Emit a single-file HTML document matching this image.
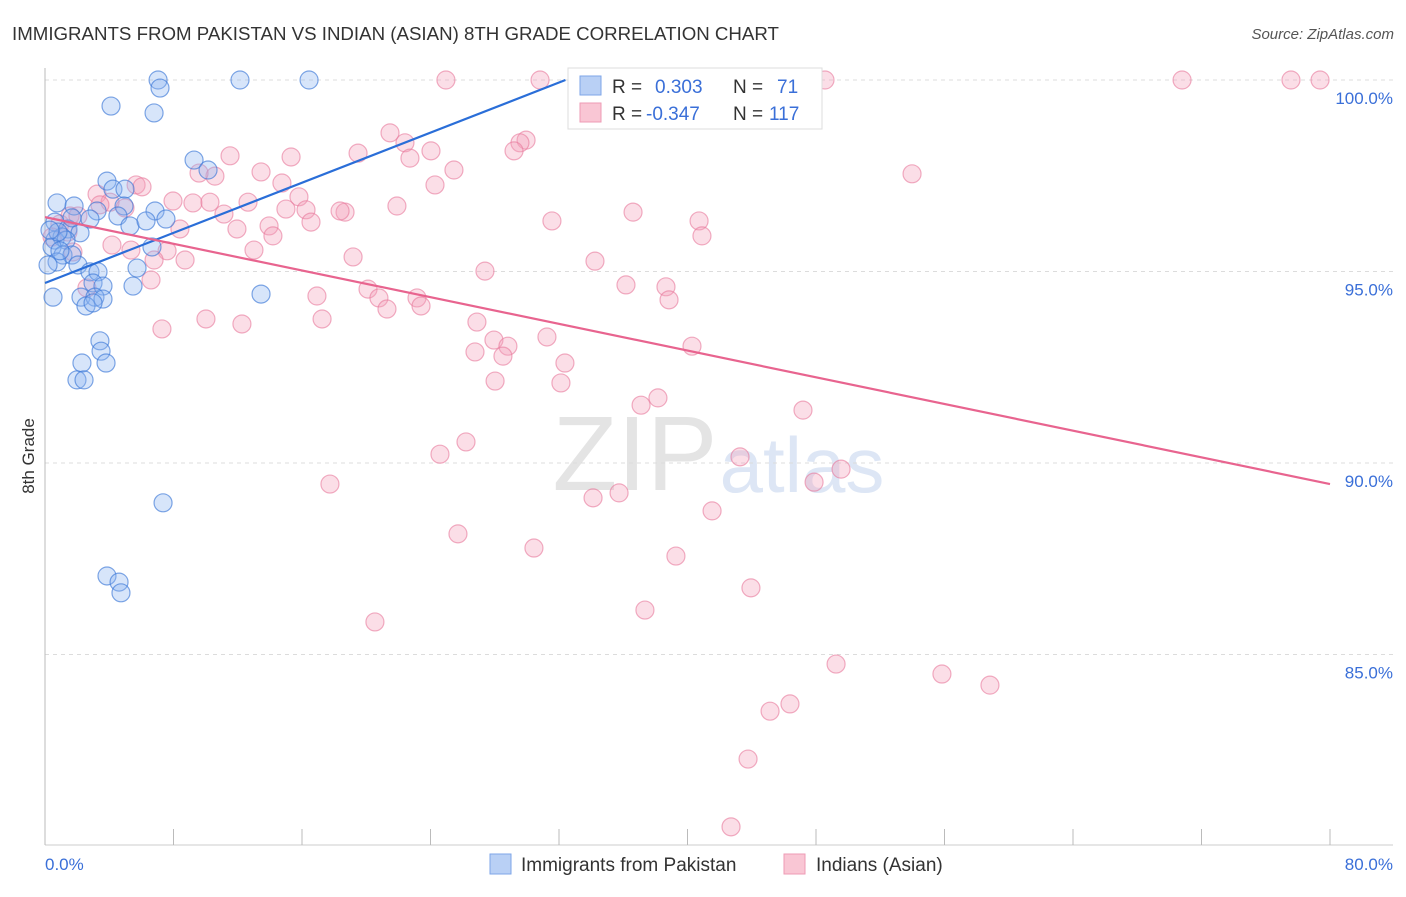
<!DOCTYPE html>
<html><head><meta charset="utf-8"><style>
body{margin:0;background:#fff;font-family:"Liberation Sans",sans-serif;}
svg text{font-family:"Liberation Sans",sans-serif;}
</style></head><body>
<svg id="chart" width="1406" height="892" viewBox="0 0 1406 892" xmlns="http://www.w3.org/2000/svg">
<text x="12" y="40" font-size="18.7" fill="#333">IMMIGRANTS FROM PAKISTAN VS INDIAN (ASIAN) 8TH GRADE CORRELATION CHART</text>
<text x="1394" y="39" font-size="15" fill="#555" font-style="italic" text-anchor="end">Source: ZipAtlas.com</text>
<text x="635" y="490" font-size="106" fill="#e4e4e4" font-family="Liberation Serif" text-anchor="middle">ZIP</text>
<text x="802" y="492" font-size="78" fill="#dde6f5" text-anchor="middle">atlas</text>
<g id="grid"></g>
<g id="axes"></g>
<g id="pts"></g>
<g id="lines"></g>
<text transform="translate(34,456) rotate(-90)" font-size="17" fill="#333" text-anchor="middle">8th Grade</text>
<text x="45" y="870" font-size="17" fill="#3a6fd8">0.0%</text>
<text x="1393" y="870" font-size="17" fill="#3a6fd8" text-anchor="end">80.0%</text>
<g>
<rect x="568" y="68" width="254" height="61" fill="#fff" stroke="#ddd"/>
<rect x="580" y="76" width="21" height="19" fill="#b9d0f5" stroke="#7ea6e8"/>
<rect x="580" y="103" width="21" height="19" fill="#f9c6d4" stroke="#ee9bb5"/>
<text x="612" y="93" font-size="19" fill="#333">R = <tspan fill="#3a6fd8" x="655">0.303</tspan><tspan x="733" fill="#333">N = </tspan><tspan fill="#3a6fd8" x="777">71</tspan></text>
<text x="612" y="120" font-size="19" fill="#333">R = <tspan fill="#3a6fd8" x="646">-0.347</tspan><tspan x="733" fill="#333">N = </tspan><tspan fill="#3a6fd8" x="769">117</tspan></text>
</g>
<g>
<rect x="490" y="854" width="21" height="20" fill="#b9d0f5" stroke="#7ea6e8"/>
<text x="521" y="871" font-size="19" fill="#333">Immigrants from Pakistan</text></g>
<g>
<rect x="784" y="854" width="21" height="20" fill="#f9c6d4" stroke="#ee9bb5"/>
<text x="816" y="871" font-size="19" fill="#333">Indians (Asian)</text></g>
</svg>
<script>
const yTicks=[100,95,90,85];
const yTickLabels=["100.0%","95.0%","90.0%","85.0%"];
const xTicks=[0,8,16,24,32,40,48,56,64,72,80];
const bluePx=[[158,80],[160,88],[240,80],[309,80],[111,106],[154,113],[194,160],[208,170],[107,181],[113,189],[125,189],[57,203],[74,206],[97,211],[124,206],[155,211],[166,219],[118,216],[90,219],[130,226],[146,221],[55,222],[68,229],[80,233],[55,240],[62,237],[66,240],[52,247],[63,255],[72,255],[152,247],[57,262],[48,265],[78,265],[137,268],[90,272],[98,272],[93,283],[103,286],[53,297],[81,297],[95,297],[103,299],[86,306],[93,303],[133,286],[261,294],[100,341],[101,351],[82,363],[106,363],[77,380],[84,380],[163,503],[107,576],[119,582],[121,593],[72,218],[58,232],[60,251],[50,230]];
const pinkPx=[[446,80],[540,80],[825,80],[1182,80],[1291,80],[1320,80],[390,133],[405,143],[431,151],[358,153],[410,158],[526,140],[520,143],[514,151],[230,156],[291,157],[454,170],[261,172],[215,176],[199,173],[136,185],[142,187],[97,194],[173,201],[110,202],[282,183],[299,197],[248,202],[193,203],[210,202],[435,185],[397,206],[345,212],[340,211],[306,210],[286,209],[311,222],[224,214],[237,229],[269,226],[273,236],[633,212],[699,221],[702,236],[552,221],[912,174],[180,229],[112,245],[131,250],[167,251],[154,260],[185,260],[254,250],[353,257],[485,271],[595,261],[151,280],[87,288],[317,296],[368,289],[379,298],[387,309],[417,298],[421,306],[626,285],[666,287],[669,300],[477,322],[322,319],[206,319],[242,324],[162,329],[547,337],[494,340],[508,346],[475,352],[503,356],[565,363],[692,346],[561,383],[495,381],[641,405],[658,398],[803,410],[466,442],[440,454],[740,457],[841,469],[814,482],[330,484],[593,498],[619,493],[712,511],[458,534],[534,548],[676,556],[751,588],[645,610],[375,622],[836,664],[942,674],[990,685],[790,704],[770,711],[748,759],[731,827],[60,224],[70,216],[68,232],[73,252],[52,237],[78,216],[125,208],[100,205]];
const blueX=bluePx.map(p=>+((p[0]-45)/16.0625).toFixed(2));
const blueY=bluePx.map(p=>+(100-(p[1]-80)/38.3).toFixed(2));
const pinkX=pinkPx.map(p=>+((p[0]-45)/16.0625).toFixed(2));
const pinkY=pinkPx.map(p=>+(100-(p[1]-80)/38.3).toFixed(2));
const blueTrend=[0,94.70,32.4,100];
const pinkTrend=[0,96.42,80,89.45];
const NS="http://www.w3.org/2000/svg";
const xs=v=>45+v*1285/80, ys=v=>80+(100-v)*38.3;
function mk(t,a,p){const e=document.createElementNS(NS,t);for(const k in a)e.setAttribute(k,a[k]);p.appendChild(e);return e;}
const grid=document.getElementById('grid'),axes=document.getElementById('axes'),pts=document.getElementById('pts'),lines=document.getElementById('lines');
yTicks.forEach((t,i)=>{
 const l=mk('line',{x1:45,x2:1393,y1:ys(t),y2:ys(t),stroke:'#dcdcdc','stroke-dasharray':'4,4'},grid);
 
 
 const tx=mk('text',{x:1393,y:ys(t)+24,'font-size':17,fill:'#3a6fd8','text-anchor':'end'},grid);
 tx.textContent=yTickLabels[i];
 
 
});
const ax=mk('line',{x1:45,x2:1393,y1:845,y2:845,stroke:'#ccc'},axes);


const ay=mk('line',{x1:45,x2:45,y1:68,y2:845,stroke:'#bbb'},axes);


xTicks.forEach(t=>{
 const k=mk('line',{x1:xs(t),x2:xs(t),y1:829,y2:845,stroke:'#bbb'},axes);
 
 
});
pinkX.forEach((x,i)=>{
 const c=mk('circle',{cx:xs(x),cy:ys(pinkY[i]),r:9,fill:'rgba(244,160,185,0.35)',stroke:'rgba(232,120,155,0.6)','stroke-width':1.2},pts);
 
 
});
blueX.forEach((x,i)=>{
 const c=mk('circle',{cx:xs(x),cy:ys(blueY[i]),r:9,fill:'rgba(140,180,240,0.35)',stroke:'rgba(60,120,215,0.65)','stroke-width':1.2},pts);
 
 
});
const bl=mk('line',{x1:xs(blueTrend[0]),y1:ys(blueTrend[1]),x2:xs(blueTrend[2]),y2:ys(blueTrend[3]),stroke:'#2a6ed8','stroke-width':2.2},lines);


const pl=mk('line',{x1:xs(pinkTrend[0]),y1:ys(pinkTrend[1]),x2:xs(pinkTrend[2]),y2:ys(pinkTrend[3]),stroke:'#e8648f','stroke-width':2.2},lines);


</script>
</body></html>
